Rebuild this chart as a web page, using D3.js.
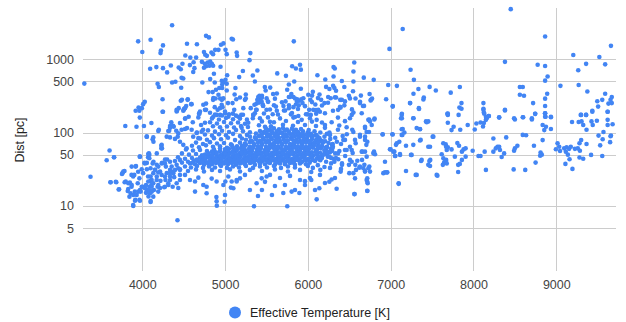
<!DOCTYPE html>
<html><head><meta charset="utf-8">
<script src="https://cdn.jsdelivr.net/npm/d3@7"></script>
<style>body{margin:0;background:#fff}svg{display:block;font-family:Arial,"Liberation Sans",sans-serif}</style>
</head><body><svg id="c" width="626" height="322"></svg>
<script>
const seriesName = "Effective Temperature [K]";
const yTitle = "Dist [pc]";
const xTicks = [4000, 5000, 6000, 7000, 8000, 9000];
const yTicks = [5, 10, 50, 100, 500, 1000];
const xDomain = [3284, 9721];
const yDomain = [1.3, 4980];
// [effective temperature K, distance pc]
const stars = [
[4360,2900],[3950,1750],[4100,1840],[4000,1250],[4250,1540],[4225,1310],[4220,1210],[4540,1620],[4660,1600],[4770,2080],[4805,1980],[5080,1900],[5095,1850],[4950,1570],[4980,1640],[4880,1340],[4920,1340],[4835,1230],[4855,1170],[5005,1340],[5020,1170],[5140,1230],[5145,1110],[5305,1210],[5295,970],[4745,1250],[4760,1150],[4780,1110],[4520,1120],[4580,1050],[4650,1050],
[4720,920],[4755,865],[4790,900],[4820,930],[4840,865],[4810,815],[4770,800],[4745,765],[4855,815],[4945,790],[4620,910],[4575,830],[4485,865],[4440,770],[4465,730],[4630,755],[4615,670],[4345,820],[4250,755],[4170,780],[4095,740],[4300,660],[4475,557],[4495,545],[4360,480],[4400,493],[4185,462],[4200,417],[4470,408],[4820,535],[4865,632],[5025,605],[5215,690],[5390,700],[5335,600],[5360,496],[5170,570],[4725,482],[4875,482],
[4960,507],[4985,487],[5020,462],[4965,452],[5005,523],[4930,404],[4965,404],[5020,374],[5125,404],
[4800,356],[4850,356],[4890,383],[4920,327],[4885,291],[4855,279],[4940,291],[4960,279],
[5115,330],[5135,285],[5250,330],[5250,291],[5415,317],[5395,279],
[4245,285],[4465,271],[4550,285],[4030,262],[4010,244],[3920,198],[3955,219],[3995,215],[3965,198],[3970,160],[4250,192],
[4440,215],[4420,198],[4505,210],[4530,230],[4590,244],[4520,157],[4685,181],[4770,204],[4770,248],[4875,222],[4910,204],[4970,222],[5035,252],[5090,252],[5110,204],[5095,181],
[5220,215],[5195,174],[5310,215],[5340,174],[5380,248],[5415,267],
[4900,174],[4940,174],[5000,183],[5040,164],
[3300,465],
[5830,1750],[7145,2580],[6985,1380],[5630,640],[5735,593],[5810,800],[5855,745],[5905,840],[5915,720],[5835,496],[5770,452],[5915,395],[6115,605],[6210,528],[6310,780],[6325,745],[6310,580],[6410,505],[6560,900],[6550,680],[6550,496],[6675,560],[6795,523],[6970,444],[7075,433],[7240,716],[7280,523],[7335,392],[7470,419],[7545,374],[7275,338],[7400,300],[7395,283],[7235,252],[7340,215],[7025,230],[6945,285],[7135,180],[7275,157],[7135,157],[7690,174],
[6745,335],[6775,290],[6760,279],[6640,319],[6575,291],[6630,262],[6665,230],[6495,317],[6545,365],[6440,417],[6390,279],[6410,279],[6440,235],[6395,219],[6365,204],[6550,187],[6740,151],[6805,155],
[6340,300],[6275,293],[6245,305],[6260,392],[6220,419],[6305,433],[6320,404],[6340,372],[6140,330],[6160,279],[6200,252],[6060,359],[6050,319],[6030,279],[6005,327],
[6090,241],[6125,204],[6145,192],[6100,181],[6035,174],
[5945,294],[5920,285],[5895,271],[5870,285],[5845,291],[5825,305],[5800,335],[5770,305],[5750,383],[5730,266],[5705,230],
[5625,340],[5580,335],[5545,410],[5480,417],[5490,374],
[5445,317],[5430,293],[5400,305],[5390,279],[5355,239],[5410,256],[5455,240],[5460,230],[5375,204],
[5520,262],[5500,204],[5590,236],[5625,198],[5575,178],
[5725,200],[5770,215],[5825,222],[5855,241],[5890,235],[5935,252],
[6015,204],[6065,204],[5995,177],[5795,177],[5825,160],[5885,168],[5925,149],[5335,157],[5360,183],
[8450,4800],[8865,2040],[8380,920],[8775,840],[8865,808],[8895,580],[8865,510],[9205,1140],[9520,1070],[9360,864],[9265,705],[9590,850],[9660,1520],
[7725,350],[7835,417],[7855,252],[7830,219],[7855,211],[7820,174],[7690,181],
[8120,252],[8120,211],[8130,181],[8185,168],[8160,157],[8310,160],[8380,204],[8490,157],
[8560,417],[8595,417],[8560,327],[8610,317],[8720,252],[8745,180],[8705,157],[8595,162],
[8865,290],[8890,338],[8865,230],[8865,183],[8870,164],[8935,162],[9050,433],[9270,444],[9375,362],
[9495,267],[9555,279],[9505,226],[9435,198],[9295,174],[9360,174],
[9590,338],[9670,305],[9655,279],[9630,248],[9670,252],[9620,192],
[7690,136],[7760,120],[7735,108],[7840,109],
[7930,127],[8015,110],[8035,133],[8085,137],[8125,135],[8115,121],[8150,149],[8185,168],[8150,164],[8125,187],[8120,204],
[8310,162],[8380,200],[8240,83],[8290,64],[8310,64],[8270,61],[8320,58],[8370,52],[8340,46.5],[8240,55],[8150,31],
[8500,151],[8600,162],[8500,61],[8490,56.5],[8530,66],[8395,86],
[8485,31.5],[8625,31],[8595,93],[8635,92],[8730,66],[8750,39],[8805,48.5],[8825,50],[8810,53.5],
[8705,151],[8745,180],[8865,183],[8865,164],[8935,164],[8835,127],[8875,120],[8855,108],[8935,112],[8835,79],
[9015,71.5],[9035,64],[8995,59.3],[9045,56],[9095,61],[9125,63],[9155,60],[9175,64],[9225,60],[9260,61],[9285,56.5],[9115,55],[9140,50],[9160,43.4],[9110,37.4],[9195,32],[9280,45.7],[9325,44],[9420,49.6],[9555,48],[9300,79],[9280,71.5],[9365,70],[9530,67],
[9190,139],[9270,139],[9305,142],[9325,127],[9365,109],[9425,142],[9440,127],[9490,145],[9510,91],[9570,102],[9620,149],[9620,127],[9650,74],[9680,130],[9660,91],[9300,174],[9360,174],[9435,192],[9620,192],[9560,81],[9655,89],
[7665,69],[7690,63],[7735,59],[7805,72],[7825,66],[7880,59],[7905,61],[7860,55],[7775,47],[7670,42.4],[7645,38.9],[7630,36.3],[7815,36.3],[7835,37.4],[7860,42.4],[7905,47],[7815,29],[7990,56.5],[8060,48],[8085,48],[8135,55],
[3795,123],[3930,120],[4020,123],[4110,135],
[4245,192],[4415,194],[4500,204],[4690,181],[4560,164],[4455,135],[4350,138],[4335,123],[4380,120],[4200,109],[4325,106],[4410,106],[4475,109],[4540,115],[4610,138],[4710,127],[4735,109],[4660,100],[4615,88],
[4055,88],[4125,81],[4135,75],[4230,66],[4230,61],[4085,50],[4070,46],[3970,47],
[3605,57],[3570,42],[3660,46],[3375,25],[3615,21],[3680,21.4],[3720,16.9],
[3760,28],[3785,30],[3800,21.5],[3850,20.8],[3870,18.3],[3830,17],[3890,25.2],[3870,26.5],[3910,15.7],[3845,13.4],[3890,10.3],[3915,12.1],[3965,12.1],[3980,15.7],[4005,18.3],[3945,20.4],[3965,23.8],[3920,34.4],[3950,29.3],[4010,28],[4055,31.7],[4070,25.2],[4100,22],[4085,18.3],[4115,15.7],[4055,16.5],
[4425,6.4],
[4080,52],[4175,52],[4275,43],[4300,43],[4335,40],[4240,38.6],[4285,34.4],[4355,34.4],[4415,36.3],[4455,31.7],[4375,29.4],[4215,29.4],[4155,31],[4100,32.6],[4055,38.6],[4025,38.6],[4135,40],
[4175,25.2],[4220,22],[4280,22.6],[4335,25.2],[4385,24.7],[4435,17.6],[4315,19.3],[4265,18],[4215,17.6],[4140,16.5],[4110,19.3],[4045,15.1],[4075,13.5],[4100,11.3],[4185,18.3],
[4053,88],[4133,86],[4193,105],[4314,105],[4295,88],[4335,86],[4234,68],[4238,61],[4435,98],[4428,88],[3972,47],[4072,51],[4085,44.6],[3658,46],[3771,29.4],[3755,27.3],[3872,34.4],[3924,35],[3903,26.5],[4033,38],[3993,31.7],[3618,21],[3686,21],[3787,21],[3831,20.4],[3872,19.3],[3715,16.8],[3824,16],[3860,14.9],[3891,14.1],[3952,15.7],[3932,14.1],[3972,16.5],[3993,18.3],[4033,17.4],[4060,16.5],[4093,16.2],[4045,19.3],[4113,18.3],[4072,21.5],[4113,22.6],[4133,20.4],[4101,25.2],[4133,28],[4153,31],[4174,36.3],[4125,38],[4193,34.4],[4234,38],[4274,38],[4193,28.6],[4234,26.5],[4274,25.2],[4295,28],[4335,31],[4375,28],[4435,32.6],[4455,42.4],[4314,20.4],[4335,22.6],[4367,18.3],[4415,20.4],[4455,22.6],[4274,18.3],[4193,19.3],[4174,22.6],[4193,15.7],[4093,14.9],[4133,13.4],[3912,11.8],[3972,11.8],[3891,10],[4101,11.7],
[4479,279],[4547,279],[4415,204],[4516,215],[4495,198],[4596,244],[4737,239],[4697,194],[4757,204],[4516,154],[4677,161],[4371,124],[4335,116],[4516,112],[4596,109],[4657,99],[4717,103],[4395,82],[4455,75],[4495,68],[4536,61],[4677,84],[4757,136],[4818,186],[4858,164],[4939,215],[4999,194],[4979,292],[4858,295],[4959,239],[5180,300],[5240,279],[5160,164],[5280,136],[5200,116],[5341,174],[5381,204],[5442,264],[5502,292],[5421,157],[5482,120],[5542,140],
[4878,176],[4963,171],[5047,178],[5132,170],[5216,175],
[4842,156],[4926,151],[5011,158],[5096,152],[5180,155],[5264,150],
[4818,138],[4902,133],[4987,139],[5071,134],[5156,137],[5240,132],
[4854,122],[4939,118],[5023,121],[5108,117],[5192,123],[5276,119],
[4794,107],[4878,103],[4963,106],[5047,102],[5132,108],[5216,104],[5300,101],
[4757,94],[4842,91],[4926,95],[5011,92],[5096,96],[5180,90],[5264,93],
[4697,83],[4781,80],[4866,84],[4951,81],[5035,85],[5120,79],[5204,83],
[4649,73],[4733,70],[4818,74],[4902,71],[4987,72],[5071,69],
[4600,66],[4685,63],[4769,67],[4854,64],[4939,65],[5023,62],
[4528,59],[4612,57],[4697,58],[4781,56],[4866,59],
[4479,52],[4564,50],[4649,51],[4721,49],
[4431,46],[4516,44],[4600,45],
[4395,41],[4479,39],[4552,40],
[4335,28],[4395,31],[4455,26.5],[4516,26.5],[4576,22.6],[4637,21.5],[4677,24.3],[4737,19.3],[4777,18.3],[4838,23.6],[4898,21.5],[4979,19.3],[5039,25.2],[5080,21.5],[5140,22.6],[5180,23.8],[5240,26.5],[5300,16.5],[5381,20.4],[5442,23.8],[5502,25.2],[4637,15.7],[4777,14.9],[4898,11.6],[4999,14.1],[5100,17.4],
[4895,13.2],[4900,10.1],[4995,11.4],[5070,17.8],[5003,21.5],[5140,21.5],
[5445,300],[5602,290],[5784,305],[6122,295],[6327,302],[6508,292],
[5518,265],[5687,258],[5868,268],[6049,260],[6243,255],[6448,266],
[5457,233],[5614,226],[5771,236],[5965,229],[6170,234],[6388,225],
[5542,206],[5711,200],[5880,209],[6098,202],[6303,198],[6532,207],
[5469,182],[5639,176],[5808,185],[5977,178],[6206,183],
[5518,161],[5663,156],[5844,163],[6025,157],[6363,160],
[5445,142],[5590,138],[5735,144],[5880,139],[6049,141],[6170,137],[6448,143],
[5409,126],[5554,122],[5699,128],[5820,124],[5965,127],[6098,123],
[5494,113],[5542,110],[5590,114],[5651,111],[5699,115],[5747,110],[5808,113],[5856,109],[5917,112],
[5421,105],[5469,102],[5518,106],[5566,103],[5626,104],[5675,101],[5723,106],[5771,103],[5832,105],[5880,102],[5941,104],[6001,101],
[5373,97],[5445,95],[5494,98],[5542,94],[5590,97],[5639,95],[5687,98],[5735,94],[5784,96],[5832,99],[5880,95],[5929,97],[5977,94],[6037,96],[6098,93],
[5300,88],[5361,86],[5409,89],[5457,85],[5506,88],[5554,86],[5602,89],[5651,85],[5699,87],[5747,88],[5796,85],[5844,89],[5892,86],[5941,88],[5989,85],[6049,87],[6122,86],
[5252,80],[5313,78],[5373,81],[5421,77],[5469,80],[5518,78],[5566,81],[5614,79],[5663,77],[5711,80],[5759,78],[5808,81],[5856,79],[5905,77],[5953,80],[6001,78],[6049,81],[6098,79],[6158,77],
[5180,73],[5240,71],[5300,74],[5349,70],[5397,73],[5445,71],[5494,73],[5542,70],[5590,72],[5639,74],[5687,71],[5735,73],[5784,70],[5832,72],[5880,74],[5929,71],[5977,73],[6025,70],[6074,72],[6122,71],[6182,73],
[5083,67],[5144,65],[5204,66],[5252,68],[5300,64],[5349,67],[5397,65],[5445,68],[5494,64],[5542,66],[5590,67],[5639,65],[5687,68],[5735,64],[5784,66],[5832,67],[5880,65],[5929,68],[5977,64],[6025,66],[6074,67],[6122,65],[6170,66],[6231,64],
[4939,61],[4999,59],[5047,60],[5096,62],[5144,59],[5192,61],[5240,58],[5289,60],[5337,62],[5385,59],[5433,61],[5482,58],[5530,60],[5578,62],[5626,59],[5675,61],[5723,58],[5771,60],[5820,62],[5868,59],[5917,61],[5965,58],[6013,60],[6062,62],[6110,59],[6158,61],[6219,58],[6279,60],
[4842,55],[4890,54],[4939,56],[4987,53],[5035,55],[5083,54],[5132,56],[5180,53],[5228,55],[5276,54],[5325,56],[5373,53],[5421,55],[5469,54],[5518,56],[5566,53],[5614,55],[5663,54],[5711,56],[5759,53],[5808,55],[5856,54],[5905,56],[5953,53],[6001,55],[6049,54],[6098,56],[6146,53],[6206,55],[6267,54],
[4757,50],[4806,49],[4854,51],[4902,48.5],[4951,50],[4999,49],[5047,51],[5096,48.5],[5144,50],[5192,49],[5240,51],[5289,48.5],[5337,50],[5385,49],[5433,51],[5482,48.5],[5530,50],[5578,49],[5626,51],[5675,48.5],[5723,50],[5771,49],[5820,51],[5868,48.5],[5917,50],[5965,49],[6013,51],[6062,48.5],[6110,50],[6170,49],[6231,51],
[4697,45.5],[4745,44.5],[4794,46],[4842,44],[4890,45.5],[4939,44.5],[4987,46],[5035,44],[5083,45.5],[5132,44.5],[5180,46],[5228,44],[5276,45.5],[5325,44.5],[5373,46],[5421,44],[5469,45.5],[5518,44.5],[5566,46],[5614,44],[5663,45.5],[5711,44.5],[5759,46],[5808,44],[5856,45.5],[5905,44.5],[5953,46],[6001,44],[6049,45.5],[6110,44.5],[6170,45],
[4625,41.5],[4673,40.5],[4721,42],[4769,40],[4818,41.5],[4866,40.5],[4914,42],[4963,40],[5011,41.5],[5059,40.5],[5108,42],[5156,40],[5204,41.5],[5252,40.5],[5300,42],[5349,40],[5397,41.5],[5445,40.5],[5494,42],[5542,40],[5590,41.5],[5639,40.5],[5687,42],[5735,40],[5784,41.5],[5832,40.5],[5880,42],[5929,40],[5977,41.5],[6025,40.5],[6086,41],
[4576,38],[4637,37],[4697,38.5],[4745,36.5],[4794,38],[4842,37],[4890,38.5],[4939,36.5],[4987,38],[5035,37],[5083,38.5],[5132,36.5],[5180,38],[5240,37],[5300,38.5],[5361,36.5],[5421,38],[5482,37],[5542,38.5],[5602,36.5],[5663,38],[5723,37],[5784,38.5],[5844,36.5],[5905,38],[5977,37],
[4516,34.5],[4588,33.5],[4661,35],[4733,33],[4806,34.5],[4878,33.5],[4951,35],[5023,33],[5096,34.5],[5168,33.5],[5252,35],[5337,33],[5421,34.5],[5506,33.5],[5590,35],[5675,33],[5759,34.5],[5844,33.5],
[4455,31],[4552,30],[4649,31.5],[4745,29.5],[4842,31],[4939,30],[5059,31.5],[5180,29.5],[5300,31],[5445,30],[5602,31.5],[5759,29.5],[5905,31],
[5420,91],[5520,92],[5620,90],[5720,92],[5820,91],[5920,90],[6020,92],[6110,90],
[5330,75],[5430,76],[5530,74],[5630,75],[5730,76],[5830,74],[5930,75],[6030,76],[6130,74],[6210,76],
[5230,63],[5330,62],[5430,63],[5530,62],[5630,63],[5730,62],[5830,63],[5930,62],[6030,63],[6130,62],[6230,63],[6300,65],
[5000,57],[5100,57.5],[5200,56.5],[5300,57],[5400,57.5],[5500,56.5],[5600,57],[5700,57.5],[5800,56.5],[5900,57],[6000,57.5],[6100,56.5],[6200,57],[6290,56],
[4800,52],[4900,52.5],[5000,51.5],[5100,52],[5200,52.5],[5300,51.5],[5400,52],[5500,52.5],[5600,51.5],[5700,52],[5800,52.5],[5900,51.5],[6000,52],[6100,52.5],[6200,51.5],
[4740,47],[4840,47.5],[4940,46.5],[5040,47],[5140,47.5],[5240,46.5],[5340,47],[5440,47.5],[5540,46.5],[5640,47],[5740,47.5],[5840,46.5],[5940,47],[6040,47.5],[6140,46.5],[6240,47],
[4660,43],[4760,43],[4860,42.5],[4960,43.5],[5060,43],[5160,42.5],[5260,43.5],[5360,43],[5460,42.5],[5560,43.5],[5660,43],[5760,42.5],[5860,43.5],[5960,43],[6060,42.5],[6140,43],
[4610,39],[4720,39.5],[4820,38.8],[4920,39.3],[5020,39],[5120,39.5],[5220,38.8],[5320,39.3],[5420,39],[5520,39.5],[5620,38.8],[5720,39.3],[5820,39],[5920,39.5],[6020,38.8],
[6010,108],[6080,104],[6150,100],[6230,96],[6060,90],[6140,84],[6200,88],[6270,82],[6180,76],[6250,72],[6300,70],[6210,62],[6290,57],[6330,52],[6190,50],[6260,47],[6310,44],[6150,42],[6220,40],[6280,38],[6120,36],[6200,34],[6060,33],[6150,31],[6000,35],[6040,29],
[6206,116],[6267,93],[6363,109],[6448,79.4],[6291,68],[6243,54.5],[6339,45],[6448,58],[6569,79.4],[6412,36.3],[6267,33],[6146,26.5],[6025,24.1],[5905,22.6],[5784,25.7],[5663,24.1],[5542,26.5],[5482,21.3],[5602,18.7],[5723,19.3],[5844,16.5],[5965,19.3],[6086,16.5],[6206,20.6],[6327,24.1],[5445,16.5],[5566,14.1],[5397,13.7],
[6330,85],[6400,70],[6470,95],[6300,62],[6380,56],[6450,48],[6320,40],[6400,32],[6280,45],[6350,75],[6420,90],[6260,100],
[6650,183],[6730,149],[6802,151],[6690,120],[6710,102],[6903,94],[7024,94],[7133,93],[7145,112],[7133,174],[7273,157],[7426,142],[7354,112],[7507,88],[7073,71.5],[7185,66],[7273,68],[7362,79.4],[7454,64],[7635,71.5],[6991,59.3],[7056,48],[7044,55],[7112,51],[7253,49.6],[7374,42.4],[7478,42.4],[6931,40],[7185,30],[7314,26.5],[7454,36.3],[7555,26.5],[7096,20.4],[6717,16.1],[6560,14.5],[6347,17.2],[6259,21.4],[6287,22.9],[6106,12.3],[6138,17.4],[5897,15],[5804,15.7],[5703,15],[5751,9.9],[5349,9.9],[5965,21.8],[6041,22.6],[6396,29.4],[6500,28],[6569,23.8],[6717,23.8],[6717,21.4],[6690,29.4],[6750,29.4],[6682,36.3],[6742,34.4],[6795,52],[6799,55],[6658,55],[6706,68],[6690,79.4],[6577,71.5],[6508,64],[6428,79.4],[6468,58],[6363,52],[6367,43.4],[6508,42.4],[6412,38],[6496,36.3],[6573,36.3],[6621,33.2],[6581,31],[6654,42.4],[6931,28.7],[6959,28.7],[6629,93],[6536,109],[6468,118],[6379,125],[6287,138],[6206,127],[6106,149],
[6629,252],[6678,231],[6758,273],[7024,226],[7233,252],[7342,210],[6529,174],[6508,157],[7125,157],[7435,138],[7454,142],[7684,180],[6750,142],[6771,127],[6690,115],[6738,102],[6549,102],[6629,88],[6690,88],[6718,75],[6903,95],[7020,95],[7165,100],[7141,93],[7133,111],[7314,115],[7354,111],[7515,88],[7354,78],[7104,75],[7064,68],[7000,59],[7032,55],[7052,48],[7113,49.6],[7245,49.6],[7475,64],[7367,41],[7467,41],[7475,35],[7616,50.7],[7677,58],[7669,64],[7636,44.6],[7656,40],[7677,38],[6529,58],[6541,52.8],[6650,55],[6690,55],[6710,47],[6791,52.8],[6811,50.6],[6911,28],[6952,28.6],[7302,26.5],[7564,25.9],[7097,20],[6529,40],[6597,41.3],[6629,34.4],[6670,32.6],[6730,32.6],[6549,28],[6690,30],[6710,22.6],[6722,20.4],[6718,16],[6565,14.5]
];

const svg = d3.select("#c");
const m = {l: 83, r: 616, t: 8, b: 271};
const x = d3.scaleLinear().domain(xDomain).range([m.l, m.r]);
const y = d3.scaleLog().domain(yDomain).range([m.b, m.t]);

svg.append("rect").attr("width", 626).attr("height", 322).attr("fill", "#fff");

const gx = svg.append("g").attr("transform", `translate(0,${m.b})`)
  .call(d3.axisBottom(x).tickValues(xTicks).tickFormat(d3.format("d"))
    .tickSizeInner(-(m.b - m.t)).tickSizeOuter(0).tickPadding(9));
const gy = svg.append("g").attr("transform", `translate(${m.l},0)`)
  .call(d3.axisLeft(y).tickValues(yTicks).tickFormat(d3.format("d"))
    .tickSizeInner(-(m.r - m.l)).tickSizeOuter(0).tickPadding(9));
[gx, gy].forEach(g => {
  g.select(".domain").remove();
  g.selectAll(".tick line").attr("stroke", "#cccccc").attr("shape-rendering", "crispEdges");
  g.selectAll(".tick text").attr("fill", "#444").style("font-size", "12.5px").style("font-family", "Arial, 'Liberation Sans', sans-serif");
});

svg.append("g").selectAll("circle").data(stars).join("circle")
  .attr("cx", d => x(d[0])).attr("cy", d => y(d[1]))
  .attr("r", 2.3).attr("fill", "#4285f4");

svg.append("text").attr("transform", "translate(20,140) rotate(-90)")
  .attr("text-anchor", "middle").attr("dy", "0.35em")
  .attr("fill", "#222").style("font-size", "12.5px").text(yTitle);

const lg = svg.append("g");
lg.append("circle").attr("cx", 235).attr("cy", 312.5).attr("r", 6).attr("fill", "#4285f4");
lg.append("text").attr("x", 250).attr("y", 312.5).attr("dy", "0.35em")
  .attr("fill", "#222").style("font-size", "12.5px").text(seriesName);
</script></body></html>
